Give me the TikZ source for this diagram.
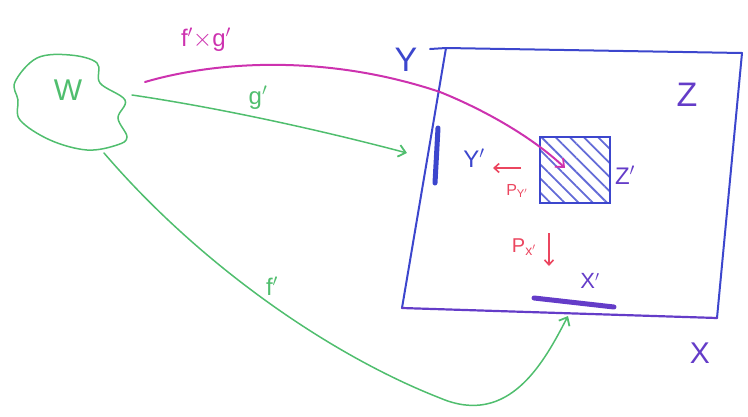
\documentclass[tikz,border=0pt]{standalone}
\usepackage{fontspec}
\setmainfont{Liberation Sans}
\usetikzlibrary{arrows.meta,patterns.meta}
\definecolor{wgreen}{RGB}{80,190,110}
\definecolor{wmag}{RGB}{205,50,175}
\definecolor{wblue}{RGB}{60,70,205}
\definecolor{wpurp}{RGB}{100,60,200}
\definecolor{wred}{RGB}{235,70,95}
\tikzset{
  greenline/.style={wgreen,line width=1.5pt,line cap=round},
  magline/.style={wmag,line width=2pt,line cap=round},
  openarrow/.style={-{Straight Barb[length=7pt,width=12pt,line width=1.8pt]}},
  lbl/.style={inner sep=0pt,font=\fontsize{#1}{#1}\selectfont},
  lbl/.default=24
}
\begin{document}
\begin{tikzpicture}[x=1pt,y=-1pt]
\useasboundingbox (0,0) rectangle (748,416);
% cloud W
\draw[wgreen,line width=1.5pt] plot[smooth cycle,tension=0.6] coordinates {
 (15,82) (37,58) (70,55) (97,63) (100,83) (125,100) (118,118) (127,137)
 (117,145) (87,150) (50,140) (20,120) (18,100)};
\node[lbl=30,text=wgreen] (W) at (68,90) {W};
\coordinate (wmag) at (145,82);
\coordinate (wg) at (132,95);
\coordinate (wf) at (104,153);
% big box Y x X
\coordinate (TL) at (446,48);
\coordinate (TR) at (742,53);
\coordinate (BR) at (717,318);
\coordinate (BL) at (402,308);
\draw[wblue,line width=2pt,line cap=round,line join=round] (430,49) -- (TL) -- (TR) -- (BR);
\draw[wblue,line width=2pt,line cap=round] (TL) -- (BL);
\draw[wpurp,line width=2.2pt,line cap=round] (BL) -- (BR);
\node[lbl=34,text=wblue] (Y) at (406,60) {Y};
\node[lbl=34,text=wpurp] (Z) at (687,95) {Z};
\node[lbl=30,text=wpurp] (X) at (700,353) {X};
% Y'
\coordinate (y1) at (438,128);
\coordinate (y2) at (435,183);
\draw[wblue,line width=5pt,line cap=round] (y1) -- (y2);
\node[lbl=24,text=wblue] (Yp) at (474,158) {Y$'$};
% Z'
\node[draw=wblue,line width=2pt,minimum width=70pt,minimum height=66pt,
  pattern={Lines[angle=-45,distance=10pt,line width=1.8pt]},pattern color=wblue!80,
  inner sep=0pt] (Zsq) at (575,170) {};
\node[lbl=24,text=wpurp] (Zp) at (625,175) {Z$'$};
% X'
\coordinate (x1) at (534,298);
\coordinate (x2) at (614,307);
\draw[wpurp,line width=5pt,line cap=round] (x1) -- (x2);
\node[lbl=22,text=wpurp] (Xp) at (590,281) {X$'$};
% projections
\coordinate (py1) at (521,168);
\coordinate (py2) at (493,168);
\draw[wred,line width=1.8pt,-{Straight Barb[length=5pt,width=9pt,line width=1.6pt]}] (py1) -- (py2);
\node[lbl=16,text=wred] (PY) at (517,191) {P\textsubscript{Y$'$}};
\coordinate (px1) at (549,233);
\coordinate (px2) at (549,266);
\draw[wred,line width=1.8pt,-{Straight Barb[length=5pt,width=9pt,line width=1.6pt]}] (px1) -- (px2);
\node[lbl=20,text=wred] (PX) at (524,247) {P\textsubscript{x$'$}};
% connectors
\coordinate (magend) at (565,168);
\draw[magline,openarrow] (wmag) .. controls (220,60) and (330,55) .. (440,92)
  .. controls (480,108) and (530,135) .. (magend);
\node[lbl=24,text=wmag] (fg) at (206,40) {f$'$$\times$g$'$};
\coordinate (gend) at (407,153);
\draw[greenline,openarrow] (wg) .. controls (220,108) and (320,130) .. (gend);
\node[lbl=24,text=wgreen] (gl) at (258,98) {g$'$};
\coordinate (fend) at (568,316);
\draw[greenline,openarrow] (wf) .. controls (200,265) and (330,355) .. (440,398)
  .. controls (510,428) and (545,360) .. (fend);
\node[lbl=24,text=wgreen] (fl) at (272,286) {f$'$};
\end{tikzpicture}
\end{document}
